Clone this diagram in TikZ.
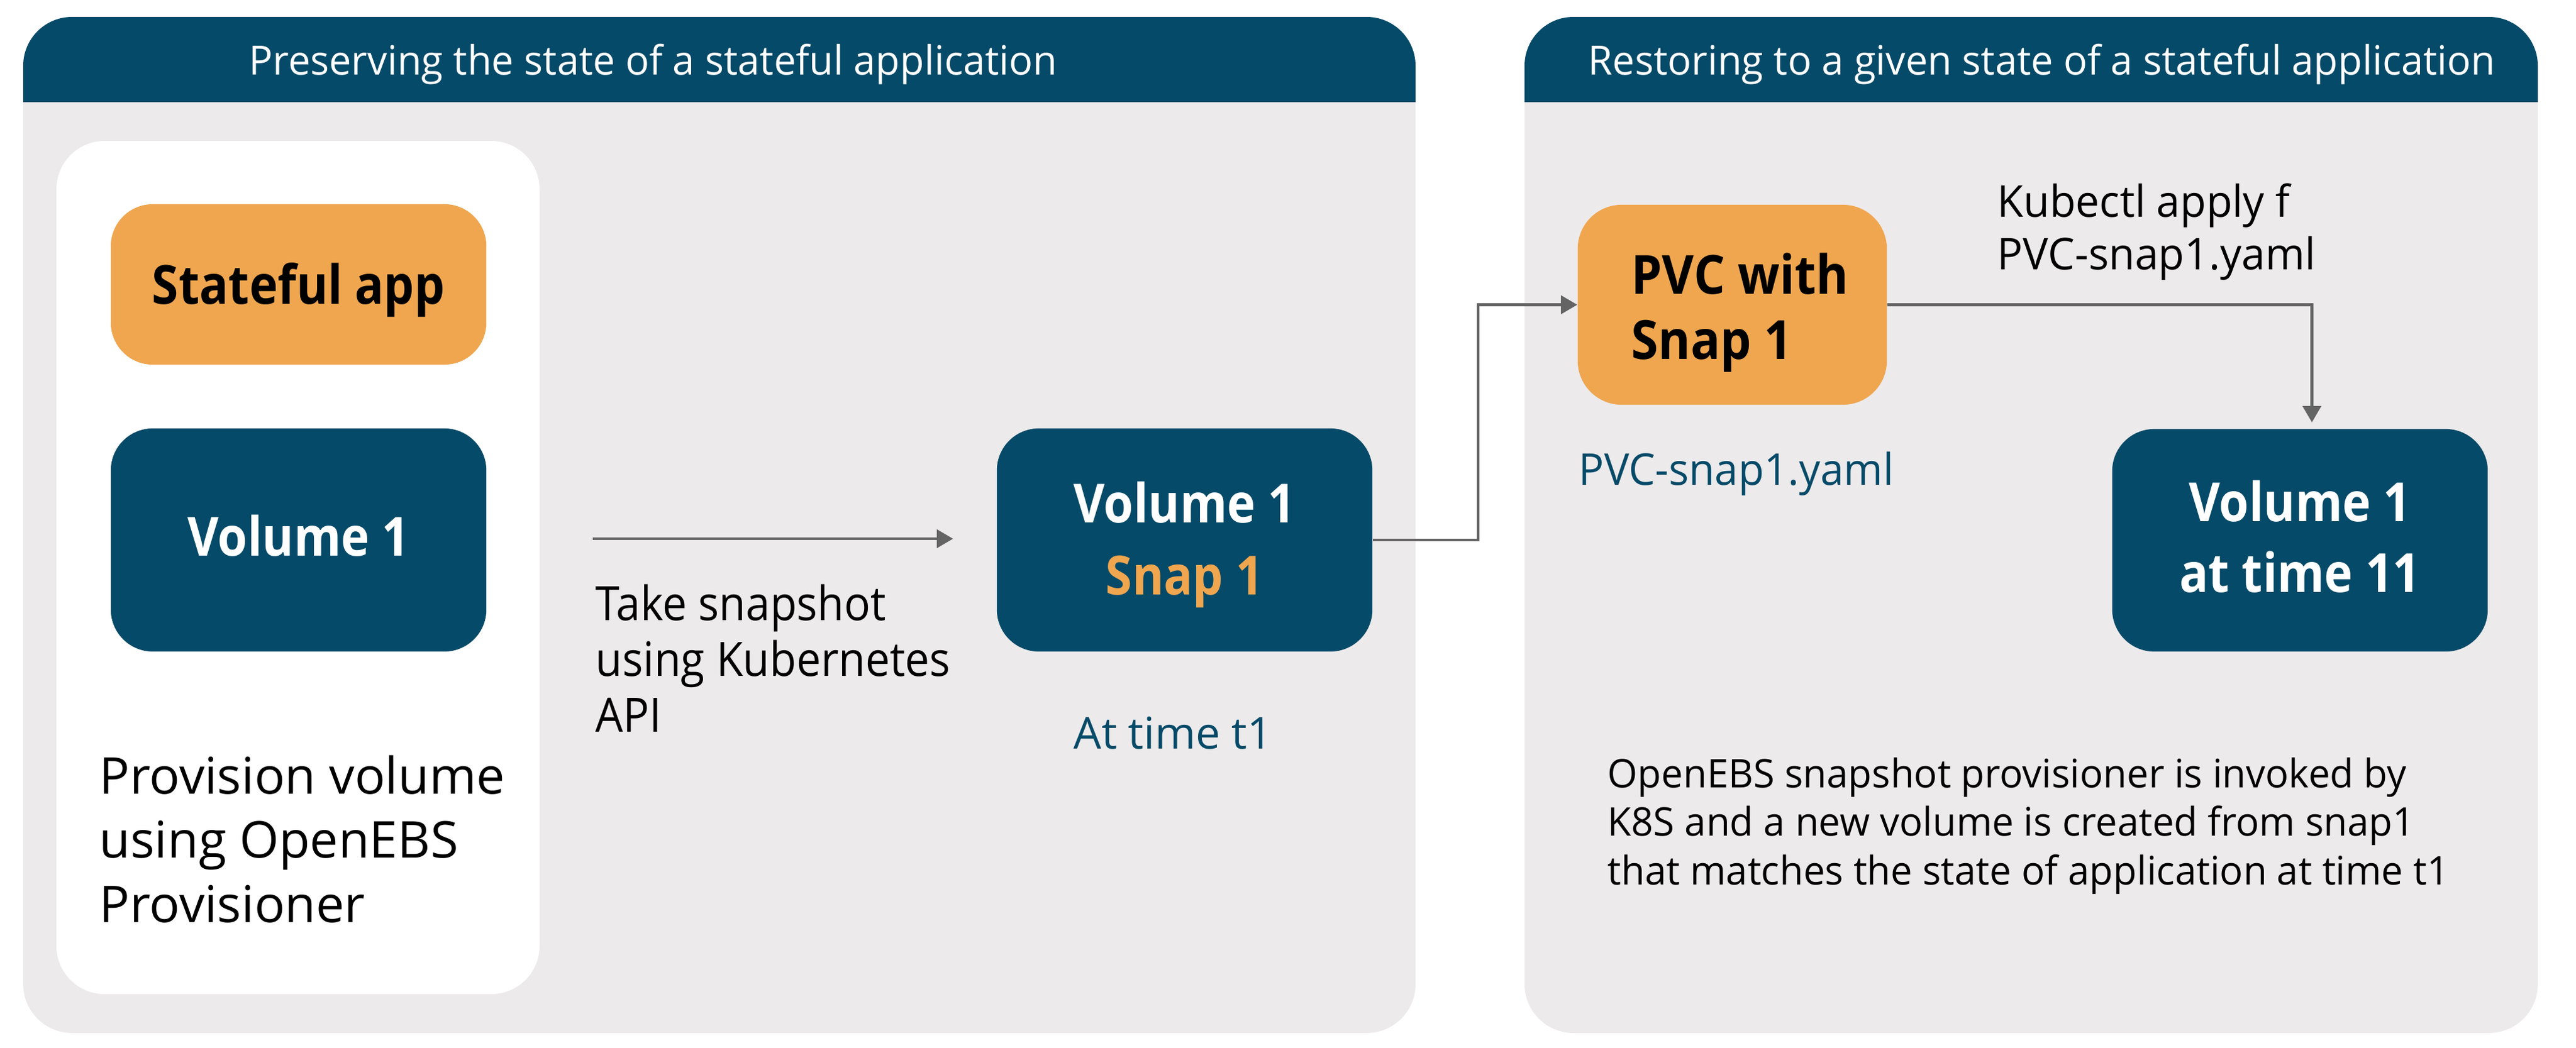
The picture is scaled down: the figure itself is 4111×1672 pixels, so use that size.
\documentclass[tikz,border=0pt]{standalone}
\usepackage{fontspec}
\setmainfont{Open Sans}
\usetikzlibrary{arrows.meta}
\definecolor{navy}{HTML}{054A68}
\definecolor{orng}{HTML}{EFA64F}
\definecolor{panelgray}{HTML}{ECEAEB}
\definecolor{arrowgray}{HTML}{646464}
\begin{document}
\begin{tikzpicture}[x=0.01cm,y=-0.01cm,
  box/.style={rounded corners=0.67cm, minimum width=5.99cm, inner sep=0pt, draw=none},
  darkbox/.style={box, fill=navy},
  orangebox/.style={box, fill=orng},
  conn/.style={draw=arrowgray, line width=1.3pt, -{Triangle[length=0.26cm,width=0.29cm]}},
  lbl/.style={inner sep=0pt, anchor=base west},
  clbl/.style={inner sep=0pt, anchor=base},
  hdr/.style={lbl, text=white, font=\fontsize{18.3pt}{22pt}\selectfont\addfontfeatures{FakeStretch=0.98}},
  boxtxt/.style={clbl, font=\bfseries\fontsize{24.5pt}{30pt}\selectfont\addfontfeatures{FakeStretch=0.89}},
  bodytxt/.style={lbl, text=black, font=\fontsize{21.5pt}{26pt}\selectfont\addfontfeatures{FakeStretch=0.92}},
  provtxt/.style={lbl, text=black, font=\fontsize{23pt}{28pt}\selectfont},
  smalltxt/.style={lbl, font=\fontsize{19.9pt}{24pt}\selectfont\addfontfeatures{FakeStretch=0.97}},
  notetxt/.style={lbl, text=black, font=\fontsize{17.9pt}{22pt}\selectfont\addfontfeatures{FakeStretch=0.98}}
]
% canvas
\fill[white] (0,0) rectangle (4111,1672);
\useasboundingbox (0,0) rectangle (4111,1672);

% left panel
\fill[panelgray, rounded corners=0.78cm] (37,27) rectangle (2259,1649);
\fill[navy] (37,163) [rounded corners=0.78cm] -- (37,27) -- (2259,27) [sharp corners] -- (2259,163) -- cycle;
\node[hdr] (lhead) at (397,119) {Preserving the state of a stateful application};

% right panel
\fill[panelgray, rounded corners=0.78cm] (2433,27) rectangle (4050,1649);
\fill[navy] (2433,163) [rounded corners=0.78cm] -- (2433,27) -- (4050,27) [sharp corners] -- (4050,163) -- cycle;
\node[hdr] (rhead) at (2534,119) {Restoring to a given state of a stateful application};

% white inner box
\fill[white, rounded corners=0.77cm] (90,225) rectangle (861,1587);

% boxes
\node[orangebox, minimum height=2.56cm] (app) at (476.5,454) {};
\node[boxtxt, text=black] (apptxt) at (476.5,485) {Stateful app};

\node[darkbox, minimum height=3.56cm] (vol) at (476.5,862) {};
\node[boxtxt, text=white] (voltxt) at (476.5,887) {Volume 1};

\node[provtxt] (prov1) at (158,1267) {Provision volume};
\node[provtxt] (prov2) at (158,1369) {using OpenEBS};
\node[provtxt] (prov3) at (158,1472) {Provisioner};

% take snapshot arrow
\coordinate (a1s) at (946,860);
\coordinate (a1e) at (1521,860);
\draw[conn] (a1s) -- (a1e);
\node[bodytxt] (take1) at (950,990) {Take snapshot};
\node[bodytxt] (take2) at (950,1079) {using Kubernetes};
\node[bodytxt] (take3) at (950,1168) {API};

\node[darkbox, minimum height=3.56cm] (snap) at (1890.5,862) {};
\node[boxtxt, text=white] (snaptxt1) at (1890.5,834) {Volume 1};
\node[boxtxt, text=orng] (snaptxt2) at (1890.5,949) {Snap 1};
\node[smalltxt, text=navy, font=\fontsize{19.9pt}{24pt}\selectfont] (t1) at (1713,1195) {At time t1};

% PVC
\node[orangebox, minimum width=4.93cm, minimum height=3.19cm, rounded corners=0.7cm] (pvc) at (2764.5,486.5) {};
\node[lbl, text=black, font=\bfseries\fontsize{24.5pt}{30pt}\selectfont\addfontfeatures{FakeStretch=0.91}] (pvctxt1) at (2603,469) {PVC with};
\node[lbl, text=black, font=\bfseries\fontsize{24.5pt}{30pt}\selectfont\addfontfeatures{FakeStretch=0.91}] (pvctxt2) at (2603,573) {Snap 1};
\node[smalltxt, text=navy, font=\fontsize{19.9pt}{24pt}\selectfont\addfontfeatures{FakeStretch=0.96}] (yaml) at (2519,774) {PVC-snap1.yaml};

\draw[conn] (snap.east) -- ++(168,0) |- (pvc.west);

% kubectl
\node[smalltxt, text=black] (kub1) at (3187,346) {Kubectl apply f};
\node[smalltxt, text=black] (kub2) at (3187,430) {PVC-snap1.yaml};

\node[darkbox, minimum height=3.55cm] (vol11) at (3670.5,862.5) {};
\node[boxtxt, text=white] (v11a) at (3670.5,832) {Volume 1};
\node[boxtxt, text=white] (v11b) at (3670.5,945) {at time 11};

\draw[conn, shorten >=0.1cm] (pvc.east) -| ([xshift=0.19cm]vol11.north);

% note
\node[notetxt] (note1) at (2565,1257) {OpenEBS snapshot provisioner is invoked by};
\node[notetxt] (note2) at (2565,1334) {K8S and a new volume is created from snap1};
\node[notetxt] (note3) at (2565,1412) {that matches the state of application at time t1};
\end{tikzpicture}
\end{document}
